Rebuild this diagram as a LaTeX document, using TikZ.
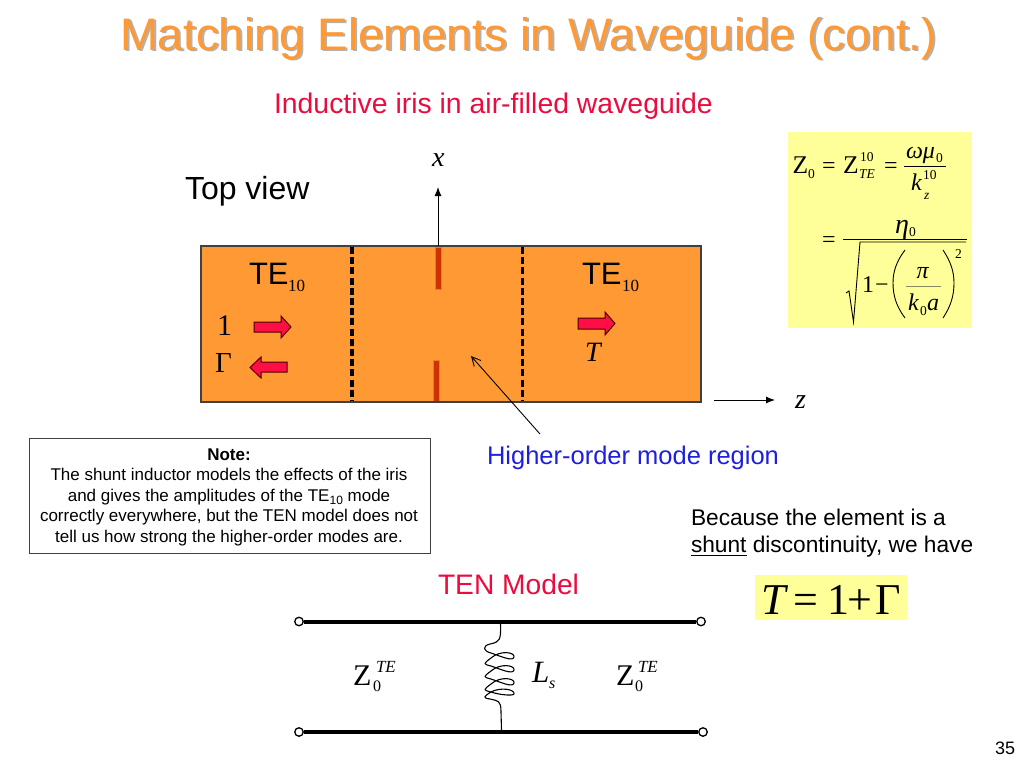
\documentclass[tikz,border=0pt]{standalone}
\usepackage{fontspec}
\setmainfont{Liberation Sans}
\newfontfamily\tms{Liberation Serif}
\usetikzlibrary{arrows.meta}
\definecolor{guide}{HTML}{FF9933}
\definecolor{pale}{HTML}{FFFF99}
\definecolor{hot}{HTML}{FF0D45}
\definecolor{irisc}{HTML}{CC3300}
\definecolor{blu}{HTML}{1F1FE0}
\newcommand{\fs}[1]{\fontsize{#1}{#1}\selectfont}
\newcommand{\tx}[6][]{\node[anchor=base west,inner sep=0pt,outer sep=0pt,#1] (#2) at (#3,#4) {\fs{#5}#6};}
\newcommand{\ser}[5]{\tx{#1}{#2}{#3}{#4}{\tms #5}}
\newcommand{\ita}[5]{\tx{#1}{#2}{#3}{#4}{\tms\itshape #5}}
\tikzset{
  blockarrow/.style={fill=hot,draw=black!70!red,line width=1pt,line join=miter},
  dashwall/.style={line width=3.2pt,dash pattern=on 7pt off 3.2pt},
  axisline/.style={line width=1pt,-{Latex[length=9pt,width=7pt]}},
  busbar/.style={line width=4pt},
  pin/.style={circle,draw=black,fill=white,line width=1.3pt,minimum size=8.5pt,inner sep=0pt},
  thinrule/.style={line width=0.9pt,black}
}
\begin{document}
\begin{tikzpicture}[x=1pt,y=-1pt]
\useasboundingbox[fill=white] (0,0) rectangle (1024,768);
% title
\tx[text=black!30]{titleshadow}{122}{51.5}{45.6}{Matching Elements in Waveguide (cont.)}
\tx[text=guide]{title}{120}{50}{45.6}{Matching Elements in Waveguide (cont.)}
\tx[text=hot!92!black]{sub}{274}{113}{28.4}{Inductive iris in air-filled waveguide}
\tx{top}{185}{199}{32}{Top view}
% guide
\fill[guide] (201,246) rectangle (701,402);
\fill[irisc,draw=guide!70!irisc,line width=1pt] (435.5,247) rectangle (441.5,289);
\fill[irisc,draw=guide!70!irisc,line width=1pt] (433.5,360) rectangle (439.5,402);
\coordinate (wa) at (352,247); \coordinate (wb) at (352,402);
\coordinate (wc) at (522.5,247); \coordinate (wd) at (522.5,402);
\draw[dashwall] (wa) -- (wb);
\draw[dashwall] (wc) -- (wd);
\draw[line width=1.2pt,black!75] (201,246) rectangle (701,402);
% axes
\ita{xl}{432}{166}{28}{x}
\ita{zl}{795}{408}{28}{z}
\coordinate (xa) at (438,246); \coordinate (xb) at (438,187);
\coordinate (za) at (714,400); \coordinate (zb) at (775,400);
\draw[axisline] (xa) -- (xb);
\draw[axisline] (za) -- (zb);
% guide labels
\tx{tl}{249}{284}{31}{TE}
\ser{tls}{288}{291}{17}{10}
\tx{tr}{582}{284}{31}{TE}
\ser{trs}{622}{291}{17}{10}
\ser{one}{217}{335}{30}{1}
\ser{gam}{215}{372}{29}{Γ}
\ita{tee}{585}{361}{28}{T}
\draw[blockarrow] (254,322) -- (281,322) -- (281,316) -- (291,327) -- (281,338) -- (281,332) -- (254,332) -- cycle;
\draw[blockarrow] (287,362) -- (261,362) -- (261,357) -- (250,367.5) -- (261,378) -- (261,372) -- (287,372) -- cycle;
\draw[blockarrow] (578,318) -- (605,318) -- (605,312) -- (615,323.5) -- (605,335) -- (605,329) -- (578,329) -- cycle;
% higher-order
\tx[text=blu]{hom}{487}{464}{25.5}{Higher-order mode region}
\coordinate (ha) at (540,434); \coordinate (hb) at (471,356);
\draw[line width=0.9pt,-{Straight Barb[length=9pt,width=9pt]}] (ha) -- (hb);
% formula
\fill[pale] (788,132) rectangle (972,328);
\ser{fa}{792.5}{173}{25.5}{Z}
\ser{fb}{808}{178}{13.5}{0}
\ser{fc}{822}{173}{24}{=}
\ser{fd}{843}{173}{25.5}{Z}
\ser{fe}{860}{161}{13.5}{10}
\ita{ff}{859}{178}{13.5}{TE}
\ser{fg}{884}{173}{24}{=}
\ita{fh}{906}{158}{24}{ωμ}
\ser{fi}{936}{162}{13.5}{0}
\draw[thinrule] (904,166) -- (946,166);
\ita{fj}{911}{190}{24}{k}
\ser{fk}{923}{179}{13.5}{10}
\ita{fl}{924}{199}{13.5}{z}
\ser{fm}{822}{247}{24}{=}
\ita{fn}{895}{233}{28}{η}
\ser{fo}{909}{236}{13.5}{0}
\draw[thinrule] (843,239) -- (967,239);
\draw[thinrule,line join=miter] (846,293) -- (849,291) -- (853.5,322) -- (860,242) -- (966,242);
\ser{fp}{862}{292}{24}{1}
\ser{fq}{875}{292}{24}{−}
\draw[thinrule] (905,250) .. controls (896,262) and (893,272) .. (893,283) .. controls (893,295) and (896,306) .. (905,318);
\draw[thinrule] (943,250) .. controls (951,262) and (954,272) .. (954,283) .. controls (954,295) and (951,306) .. (943,318);
\ser{fr}{955}{258}{13.5}{2}
\ita{fs}{916.5}{278}{24}{π}
\draw[line width=0.8pt,black!45!pale!70!gray] (906,286) -- (941,286);
\ita{ft}{908}{310}{24}{k}
\ser{fu}{920}{315}{13.5}{0}
\ita{fv}{927}{310}{24}{a}
% note
\node[draw=black!75,line width=1pt,fill=white,minimum width=401pt,minimum height=115pt,inner sep=0pt] (notebox) at (229.5,495.5) {};
\node[anchor=base,inner sep=0pt] (n1) at (229,460) {\fs{17}\bfseries Note:};
\node[anchor=base,inner sep=0pt] (n2) at (229,480) {\fs{17}The shunt inductor models the effects of the iris};
\node[anchor=base,inner sep=0pt] (n3) at (229,501) {\fs{17}and gives the amplitudes of the TE\raisebox{-3pt}{\fs{12}10} mode};
\node[anchor=base,inner sep=0pt] (n4) at (229,521.5) {\fs{17}correctly everywhere, but the TEN model does not};
\node[anchor=base,inner sep=0pt] (n5) at (229,542) {\fs{17}tell us how strong the higher-order modes are.};
% right text
\tx{b1}{691}{525}{22.7}{Because the element is a}
\tx{b2}{691}{552}{22.7}{shunt discontinuity, we have}
\draw[line width=1pt] (691,555) -- (746.5,555);
\tx[text=hot!92!black]{ten}{438}{594}{28.2}{TEN Model}
\fill[pale] (755,575) rectangle (907,620);
\ita{eqa}{761}{614}{44}{T}
\ser{eqb}{793}{614}{44}{=}
\ser{eqc}{827}{614}{44}{1}
\ser{eqd}{847}{614}{44}{+}
\ser{eqe}{875}{614}{44}{Γ}
% TEN circuit
\node[pin] (p1) at (299,621.5) {};
\node[pin] (p2) at (701,621.5) {};
\node[pin] (p3) at (299,732) {};
\node[pin] (p4) at (703,732) {};
\draw[busbar] (p1) -- (p2);
\draw[busbar] (p3) -- (p4);
\coordinate (ca) at (500.5,624); \coordinate (cb) at (501.5,730);
\draw[line width=1.1pt,line join=round] (ca) .. controls (501,640) and (500,642) .. (490,644)
  .. controls (482,646) and (483,651) .. (491,653)
  .. controls (500,656) and (513,662) .. (514,657) .. controls (515,652) and (500,650) .. (491,658)
  .. controls (483,664) and (483,664) .. (491,666)
  .. controls (500,669) and (513,675) .. (514,670) .. controls (515,665) and (500,663) .. (491,671)
  .. controls (483,677) and (483,677) .. (491,679)
  .. controls (500,682) and (513,688) .. (514,683) .. controls (515,678) and (500,676) .. (491,684)
  .. controls (483,690) and (483,690) .. (491,692)
  .. controls (500,695) and (513,696) .. (514,694) .. controls (515,689) and (500,687) .. (491,692)
  .. controls (483,697) and (483,698) .. (490,699)
  .. controls (498,701) and (501,700) .. (501,712) -- (cb);
\ser{ca1}{353}{685}{30}{Z}
\ser{ca2}{373}{691}{16}{0}
\ita{ca3}{376}{672}{17}{TE}
\ita{cl1}{532}{682}{31}{L}
\ita{cl2}{549}{688}{16}{s}
\ser{cb1}{616}{685}{30}{Z}
\ser{cb2}{635}{691}{16}{0}
\ita{cb3}{638}{672}{17}{TE}
\tx{pg}{995}{754}{18}{35}
\end{tikzpicture}
\end{document}
